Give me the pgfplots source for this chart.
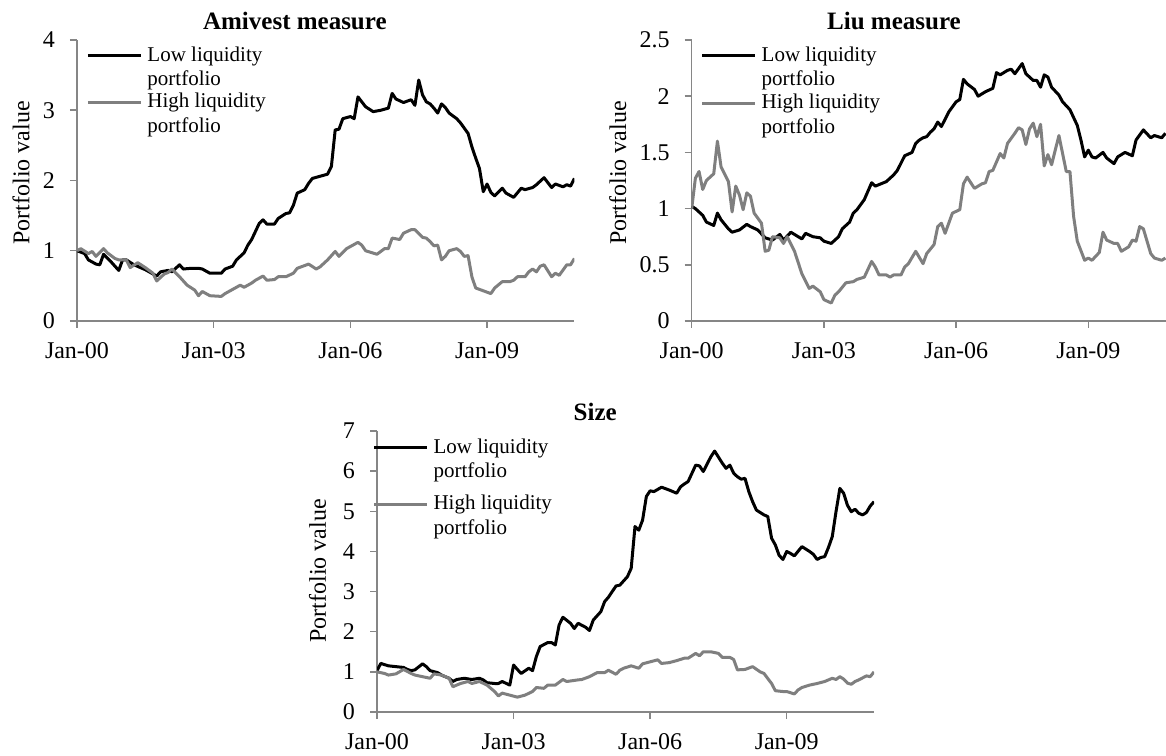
\documentclass[border=0pt]{standalone}
\usepackage{fontspec}
\setmainfont{Liberation Serif}
\usepackage{pgfplots}
\usepackage{pgfplotstable}
\pgfplotsset{compat=1.18}

\definecolor{axgray}{RGB}{134,134,134}
\definecolor{hiqgray}{RGB}{127,127,127}

% months since Jan-2000, portfolio value
\pgfplotstableread{
m v
0 1.00
2 0.96
3 0.87
5 0.81
6 0.80
7 0.95
9 0.84
11 0.72
12 0.87
13 0.87
15 0.80
18 0.73
21 0.64
22 0.70
24 0.72
25 0.70
27 0.80
28 0.74
30 0.75
32 0.75
33 0.74
35 0.68
38 0.68
39 0.74
41 0.78
42 0.87
44 0.97
45 1.08
46 1.16
48 1.39
49 1.44
50 1.38
52 1.38
53 1.46
55 1.53
56 1.54
57 1.65
58 1.82
60 1.87
61 1.96
62 2.03
64 2.06
66 2.09
67 2.20
68 2.72
69 2.73
70 2.88
72 2.91
73 2.88
74 3.19
75 3.12
76 3.05
78 2.98
80 3.00
82 3.03
83 3.24
84 3.16
86 3.11
88 3.15
89 3.07
90 3.43
91 3.22
92 3.12
93 3.09
94 3.03
95 2.96
96 3.09
97 3.04
98 2.96
100 2.88
101 2.82
103 2.67
104 2.48
105 2.32
106 2.17
107 1.84
108 1.95
109 1.83
110 1.78
112 1.89
113 1.82
115 1.76
117 1.89
118 1.87
120 1.90
121 1.94
123 2.04
125 1.90
126 1.95
128 1.91
129 1.94
130 1.92
131 2.03
}\amiLow

\pgfplotstableread{
m v
0 1.00
1 1.03
3 0.96
4 0.99
5 0.92
7 1.03
8 0.97
10 0.89
11 0.87
13 0.87
14 0.76
16 0.83
18 0.76
20 0.68
21 0.57
23 0.67
24 0.69
25 0.74
27 0.63
29 0.51
31 0.44
32 0.36
33 0.42
35 0.36
38 0.35
39 0.39
41 0.45
43 0.51
44 0.48
46 0.54
47 0.58
49 0.64
50 0.58
52 0.59
53 0.63
55 0.63
57 0.68
58 0.75
61 0.81
63 0.74
64 0.77
66 0.87
68 0.99
69 0.92
71 1.03
74 1.12
75 1.08
76 1.00
79 0.95
80 0.99
81 1.03
82 1.03
83 1.18
85 1.16
86 1.25
88 1.30
89 1.30
91 1.19
92 1.18
93 1.13
94 1.07
95 1.08
96 0.87
97 0.92
98 1.00
100 1.03
101 0.99
102 0.92
103 0.93
104 0.63
105 0.47
106 0.45
107 0.43
109 0.39
110 0.47
112 0.56
114 0.56
115 0.58
116 0.63
118 0.63
119 0.70
120 0.74
121 0.70
122 0.78
123 0.80
125 0.63
126 0.68
127 0.65
129 0.80
130 0.80
131 0.89
}\amiHigh

\pgfplotstableread{
m v
0 1.02
1 1.00
3 0.94
4 0.88
6 0.85
7 0.96
8 0.90
10 0.82
11 0.79
13 0.81
15 0.86
16 0.84
18 0.81
20 0.74
22 0.72
24 0.77
25 0.72
27 0.79
28 0.77
30 0.73
31 0.78
33 0.75
35 0.74
36 0.71
38 0.69
40 0.75
41 0.82
43 0.88
44 0.96
45 0.99
47 1.08
49 1.23
50 1.20
53 1.24
55 1.30
56 1.34
58 1.47
60 1.50
61 1.58
62 1.61
63 1.63
64 1.64
65 1.68
66 1.71
67 1.77
68 1.73
70 1.86
72 1.95
73 1.97
74 2.15
75 2.11
77 2.06
78 2.00
80 2.04
82 2.07
83 2.21
84 2.19
86 2.23
87 2.24
88 2.20
90 2.29
91 2.20
93 2.14
94 2.14
95 2.08
96 2.19
97 2.17
98 2.08
100 2.01
101 1.95
103 1.88
105 1.74
106 1.61
107 1.46
108 1.52
109 1.46
110 1.45
112 1.50
113 1.45
115 1.40
116 1.46
118 1.50
120 1.47
121 1.61
123 1.70
125 1.63
126 1.65
128 1.63
129 1.67
}\liuLow

\pgfplotstableread{
m v
0 1.00
1 1.27
2 1.33
3 1.17
4 1.25
6 1.31
7 1.60
8 1.37
10 1.24
11 0.97
12 1.20
13 1.12
14 0.99
15 1.14
16 1.11
17 0.96
19 0.87
20 0.62
21 0.63
22 0.75
24 0.74
25 0.69
26 0.75
28 0.62
30 0.42
32 0.29
33 0.31
35 0.26
36 0.19
38 0.16
39 0.23
40 0.26
42 0.34
44 0.35
45 0.37
47 0.39
49 0.53
50 0.48
51 0.41
53 0.41
54 0.39
55 0.41
57 0.41
58 0.48
59 0.51
61 0.62
63 0.51
64 0.60
66 0.68
67 0.84
68 0.87
69 0.78
71 0.96
73 0.99
74 1.22
75 1.28
77 1.18
79 1.22
80 1.23
81 1.33
82 1.34
84 1.49
85 1.45
86 1.58
88 1.67
89 1.72
90 1.70
91 1.57
92 1.71
93 1.76
94 1.64
95 1.75
96 1.38
97 1.48
98 1.39
100 1.65
102 1.33
103 1.33
104 0.93
105 0.71
107 0.54
108 0.56
109 0.54
111 0.61
112 0.79
113 0.72
115 0.69
116 0.69
117 0.62
119 0.66
120 0.72
121 0.71
122 0.84
123 0.82
125 0.60
126 0.56
128 0.54
129 0.56
}\liuHigh

\pgfplotstableread{
m v
0 1.03
1 1.21
3 1.15
5 1.13
7 1.11
8 1.06
9 1.03
10 1.05
12 1.20
13 1.13
14 1.03
16 0.98
17 0.92
19 0.84
20 0.76
21 0.81
23 0.84
25 0.81
27 0.84
28 0.80
29 0.73
31 0.71
32 0.71
33 0.76
35 0.67
36 1.17
37 1.06
38 0.96
40 1.09
41 1.03
42 1.38
43 1.63
45 1.73
46 1.73
47 1.67
48 2.17
49 2.36
51 2.21
52 2.08
53 2.21
55 2.11
56 2.03
57 2.29
59 2.50
60 2.75
61 2.86
63 3.14
64 3.16
66 3.37
67 3.58
68 4.62
69 4.53
70 4.78
71 5.37
72 5.51
73 5.49
75 5.60
77 5.53
79 5.45
80 5.61
81 5.68
82 5.74
84 6.15
85 6.13
86 5.99
88 6.36
89 6.50
91 6.20
92 6.07
93 6.15
94 5.95
95 5.86
96 5.80
97 5.82
98 5.49
99 5.24
100 5.03
102 4.91
103 4.87
104 4.33
105 4.16
106 3.90
107 3.80
108 4.00
109 3.95
110 3.89
112 4.12
114 4.00
115 3.93
116 3.80
117 3.85
118 3.87
119 4.10
120 4.37
121 5.00
122 5.57
123 5.45
124 5.15
125 4.99
126 5.05
127 4.95
128 4.91
129 4.97
130 5.13
131 5.24
}\sizeLow

\pgfplotstableread{
m v
0 1.00
2 0.96
3 0.92
5 0.95
7 1.06
9 0.96
10 0.92
12 0.88
14 0.84
15 0.95
17 0.92
19 0.84
20 0.63
22 0.71
24 0.76
25 0.71
27 0.76
29 0.67
31 0.51
32 0.40
33 0.47
35 0.42
37 0.37
39 0.42
41 0.51
42 0.61
44 0.59
45 0.67
47 0.67
49 0.81
50 0.76
53 0.80
54 0.81
56 0.88
58 0.98
60 0.98
61 1.04
63 0.94
64 1.04
65 1.09
67 1.15
69 1.09
70 1.20
72 1.25
74 1.30
75 1.21
77 1.23
79 1.28
81 1.34
82 1.34
84 1.46
85 1.40
86 1.50
88 1.50
90 1.46
91 1.36
93 1.36
94 1.31
95 1.05
97 1.06
99 1.13
101 1.00
102 0.96
104 0.71
105 0.53
107 0.51
108 0.51
110 0.45
111 0.55
112 0.61
114 0.67
116 0.71
118 0.76
120 0.84
121 0.81
122 0.88
123 0.82
124 0.72
125 0.69
126 0.76
127 0.80
129 0.90
130 0.88
131 1.00
}\sizeHigh

% two-line legend text whose box only counts the first line
\newcommand{\legtext}[2]{\raisebox{0pt}[\height][0pt]{\parbox[t]{80pt}{\fontsize{10.5}{11.4}\selectfont #1\\[0.9pt]#2}}}

\pgfplotsset{
  liqaxis/.style={
    scale only axis,
    height=140.5pt,
    axis lines=left,
    axis line style={-, draw=axgray, line width=0.75pt},
    tick align=outside,
    major tick length=3.5pt,
    tick style={draw=axgray, line width=0.75pt},
    xmin=0,
    xtick={0,36,72,108},
    xticklabels={Jan-00,Jan-03,Jan-06,Jan-09},
    ymin=0,
    tick label style={font=\fontsize{12}{14}\selectfont},
    yticklabel style={xshift=-4pt},
    xticklabel style={yshift=-3.5pt},
    /pgf/number format/assume math mode=true,
    ylabel={Portfolio value},
    ylabel style={font=\fontsize{12}{14}\selectfont, anchor=base},
    every axis title/.style={font=\bfseries\fontsize{12.5}{14}\selectfont, anchor=base},
    legend style={draw=none, fill=none, anchor=north west,
      inner sep=0pt, outer sep=0pt, column sep=0.5pt,
      font=\fontsize{10.5}{11.4}\selectfont,
      cells={anchor=west}},
    legend image code/.code={\draw[##1] (0pt,0pt) -- (26.5pt,0pt);},
    every axis plot/.append style={line width=1.5pt, line join=round},
  },
  lowline/.style={black},
  highline/.style={hiqgray},
}

\begin{document}
\begin{tikzpicture}
\useasboundingbox (0,0) rectangle (583pt,377.5pt);

% Amivest measure
\begin{axis}[liqaxis,
  at={(38.5pt,217pt)}, anchor=south west,
  width=248.7pt, xmax=131, ymax=4, ytick={0,1,2,3,4},
  title={Amivest measure},
  title style={at={(axis description cs:0.438,1.038)}},
  ylabel style={at={(axis description cs:-0.0955,0.527)}},
  legend style={at={(axis description cs:0.019,0.990)}, row sep=10.5pt},
]
\addplot[lowline] table[x=m, y=v] {\amiLow};
\addlegendentry{\legtext{Low liquidity}{portfolio}}
\addplot[highline] table[x=m, y=v] {\amiHigh};
\addlegendentry{\legtext{High liquidity}{portfolio}}
\end{axis}

% Liu measure
\begin{axis}[liqaxis,
  at={(345.85pt,217pt)}, anchor=south west,
  width=237.4pt, xmax=129.3, ymax=2.5, ytick={0,0.5,1,1.5,2,2.5},
  title={Liu measure},
  title style={at={(axis description cs:0.426,1.038)}},
  ylabel style={at={(axis description cs:-0.138,0.527)}},
  legend style={at={(axis description cs:0.019,0.990)}, row sep=11pt},
]
\addplot[lowline] table[x=m, y=v] {\liuLow};
\addlegendentry{\legtext{Low liquidity}{portfolio}}
\addplot[highline] table[x=m, y=v] {\liuHigh};
\addlegendentry{\legtext{High liquidity}{portfolio}}
\end{axis}

% Size
\begin{axis}[liqaxis,
  at={(188.5pt,21.5pt)}, anchor=south west,
  width=248.5pt, xmax=131, ymax=7, ytick={0,1,2,3,4,5,6,7},
  title={Size},
  title style={at={(axis description cs:0.439,1.037)}},
  ylabel style={at={(axis description cs:-0.103,0.502)}},
  legend style={at={(axis description cs:-0.009,0.987)}, row sep=15.5pt},
]
\addplot[lowline] table[x=m, y=v] {\sizeLow};
\addlegendentry{\legtext{Low liquidity}{portfolio}}
\addplot[highline] table[x=m, y=v] {\sizeHigh};
\addlegendentry{\legtext{High liquidity}{portfolio}}
\end{axis}
\end{tikzpicture}
\end{document}
